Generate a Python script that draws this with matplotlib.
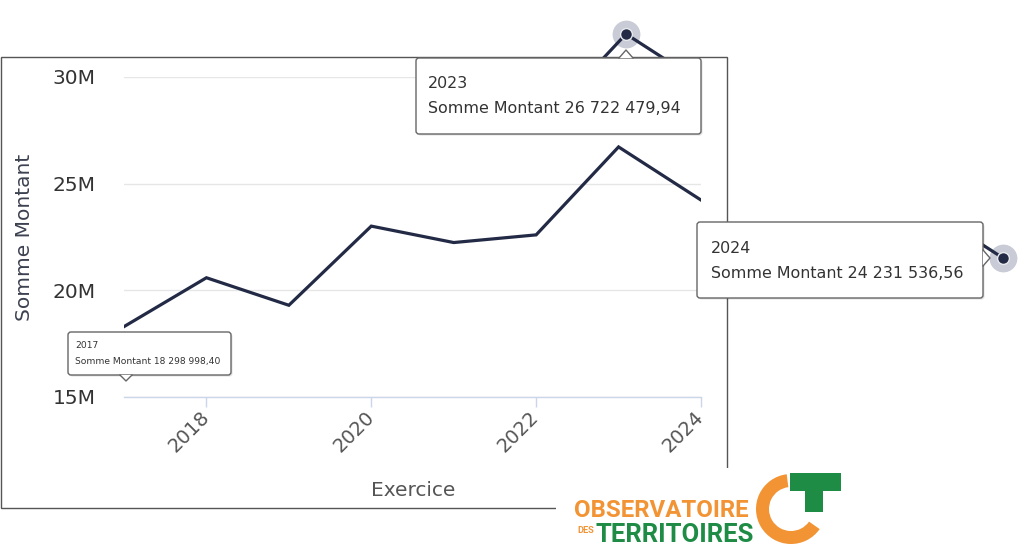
import matplotlib
matplotlib.use('Agg')
import matplotlib.pyplot as plt
from matplotlib.patches import Rectangle, FancyBboxPatch, Polygon, Wedge

# ---------------- data ----------------
years = [2017, 2018, 2019, 2020, 2021, 2022, 2023, 2024]
montants = [18298998.40, 20590000, 19300000, 23010000, 22240000, 22600000,
            26722479.94, 24231536.56]
x_ticks = [2018, 2020, 2022, 2024]
y_ticks = [15e6, 20e6, 25e6, 30e6]
y_tick_labels = ['15M', '20M', '25M', '30M']
series_name = 'Somme Montant'
x_title = 'Exercice'
tooltip_years = [2017, 2023, 2024]
logo_words = ['OBSERVATOIRE', 'DES', 'TERRITOIRES']

# ---------------- style ----------------
W, H = 1024, 555
LINE = '#232a45'
ORANGE = '#f29434'
GREEN = '#1f8c46'
FONT = ['DejaVu Sans']

fig = plt.figure(figsize=(W / 100, H / 100), dpi=100)
fig.patch.set_facecolor('white')


def rect(l, t, r, b):
    return [l / W, 1 - b / H, (r - l) / W, (b - t) / H]


def fr(v):
    s = f"{v:,.2f}"
    return s.replace(',', ' ').replace('.', ',')


# plot area in pixels
PL, PT, PR, PB = 124, 77, 701, 397
ax = fig.add_axes(rect(PL, PT, PR, PB), zorder=1)
ax.plot(years, montants, color=LINE, lw=2.3, solid_joinstyle='miter', zorder=3)
ax.set_xlim(years[0], years[-1])
ax.set_ylim(y_ticks[0], y_ticks[-1])
ax.set_yticks(y_ticks, y_tick_labels)
ax.set_xticks(x_ticks, [str(t) for t in x_ticks])
ax.grid(axis='y', color='#e6e6e6', lw=1)
ax.set_axisbelow(True)
for s in ['top', 'right', 'left']:
    ax.spines[s].set_visible(False)
ax.spines['bottom'].set_color('#ccd6eb')
ax.spines['bottom'].set_linewidth(1)
ax.tick_params(axis='y', length=0, pad=20.5, labelsize=14.5, labelcolor='#333333')
ax.tick_params(axis='x', length=7.2, width=1, color='#ccd6eb', pad=5,
               labelsize=14, labelcolor='#555555')
for lab in ax.get_xticklabels():
    lab.set_rotation(45)
    lab.set_ha('right')
    lab.set_va('center')
    lab.set_rotation_mode('anchor')
for lab in ax.get_yticklabels() + ax.get_xticklabels():
    lab.set_family(FONT)

ax.set_ylabel(series_name, fontsize=14.5, color='#3c4150', family=FONT)
ax.yaxis.label.set_va('center')
ax.yaxis.set_label_coords((25 - PL) / (PR - PL), 0.5)
ax.set_xlabel(x_title, fontsize=14.5, color='#555555', family=FONT)
ax.xaxis.label.set_va('center')
ax.xaxis.set_label_coords((413 - PL) / (PR - PL), (PB - 490) / (PB - PT))

SX = (PR - PL) / (years[-1] - years[0])
SY = (PB - PT) / (y_ticks[-1] - y_ticks[0])


def highlight(year, mx, my, l, t, r, b):
    v = montants[years.index(year)]
    h = fig.add_axes(rect(l, t, r, b), zorder=2)
    h.set_xlim(year - (mx - l) / SX, year + (r - mx) / SX)
    h.set_ylim(v - (b - my) / SY, v + (my - t) / SY)
    h.plot(years, montants, color=LINE, lw=2.3, zorder=3)
    h.plot([year], [v], 'o', ms=19, color='#c9ccd6', zorder=2, clip_on=False)
    h.plot([year], [v], 'o', ms=8.5, mfc=LINE, mec='#e8e9ee', mew=1,
           zorder=4, clip_on=False)
    h.axis('off')


highlight(2023, 626, 34, 585, 10, 680, 75)
highlight(2024, 1003, 258, 950, 225, 1022, 290)

# ---------------- overlay ----------------
ov = fig.add_axes([0, 0, 1, 1], zorder=3)
ov.set_xlim(0, W)
ov.set_ylim(H, 0)
ov.axis('off')

# panel border
ov.add_patch(Rectangle((1, 57), 726, 451, fill=False, ec='#555555', lw=1, zorder=1))


def tooltip(year, l, t, r, b, side, pc, fs, tx, base1, base2):
    v = montants[years.index(year)]
    ov.add_patch(FancyBboxPatch((l + 1.5, t + 1.5), r - l, b - t,
                                boxstyle='round,pad=0,rounding_size=3',
                                fc='#000000', ec='none', alpha=0.12, zorder=4))
    ov.add_patch(FancyBboxPatch((l, t), r - l, b - t,
                                boxstyle='round,pad=0,rounding_size=3',
                                fc='white', ec='#666666', lw=1, zorder=5))
    if side == 'top':
        tri = [(pc - 7, t), (pc, t - 8), (pc + 7, t)]
    elif side == 'bottom':
        tri = [(pc - 6, b), (pc, b + 6), (pc + 6, b)]
    else:
        tri = [(r, pc - 8), (r + 7, pc), (r, pc + 8)]
    ov.add_patch(Polygon(tri, closed=True, fc='white', ec='none', zorder=6))
    xs, ys = zip(*tri)
    ov.plot(xs, ys, color='#666666', lw=1, zorder=7)
    ov.text(tx, base1, str(year), fontsize=fs, color='#333333', va='baseline',
            family=FONT, zorder=8)
    ov.text(tx, base2, f"{series_name} {fr(v)}", fontsize=fs, color='#333333',
            va='baseline', family=FONT, zorder=8)


tooltip(tooltip_years[0], 68, 332, 231, 375, 'bottom', 126, 6.6, 75, 348, 364)
tooltip(tooltip_years[1], 416, 58, 701, 134, 'top', 626, 11.4, 428, 88, 113)
tooltip(tooltip_years[2], 697, 222, 983, 298, 'right', 258, 11.4, 711, 253, 278)

# ---------------- logo ----------------
ov.add_patch(Rectangle((556, 468), 304, 87, fc='white', ec='none', zorder=9))
renderer = fig.canvas.get_renderer()


def fit_text(s, x0, x1, base, color):
    t = ov.text(x0, base, s, fontsize=20, color=color, fontweight='bold',
                family=['Roboto', 'DejaVu Sans'], va='baseline', ha='left', zorder=10)
    bb = t.get_window_extent(renderer)
    t.set_fontsize(20 * (x1 - x0) / bb.width)
    return t


fit_text(logo_words[0], 574, 748, 517, ORANGE)
fit_text(logo_words[1], 577, 594, 533, ORANGE)
fit_text(logo_words[2], 595, 753, 542, GREEN)

ov.add_patch(Wedge((791, 509), 35, 35, 263, width=13, fc=ORANGE, ec='none', zorder=10))
ov.add_patch(Rectangle((790, 473), 51, 18, fc=GREEN, ec='none', zorder=10))
ov.add_patch(Rectangle((805, 490), 18, 22, fc=GREEN, ec='none', zorder=10))

fig.savefig('out.png', dpi=100, facecolor='white')
